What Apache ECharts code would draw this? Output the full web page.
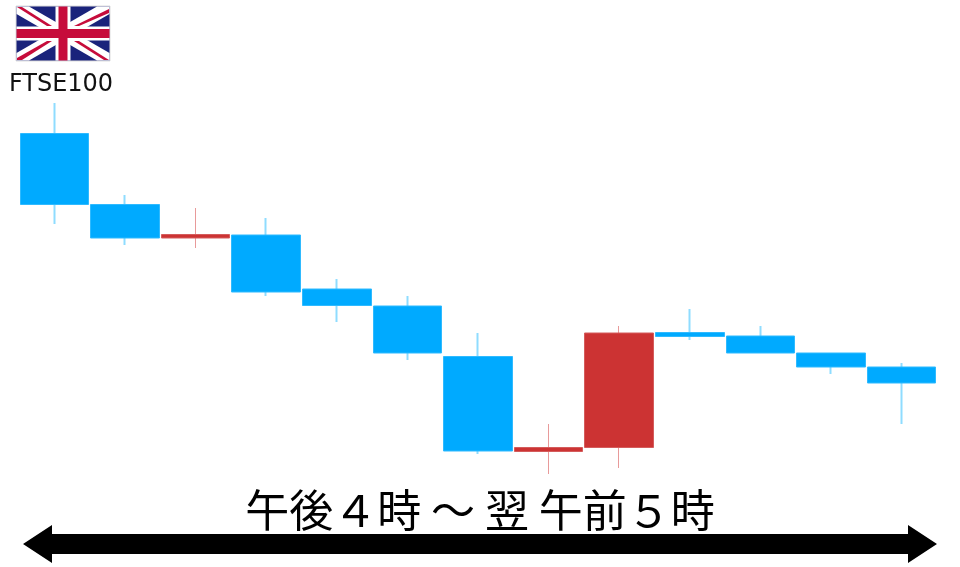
<!DOCTYPE html>
<html><head><meta charset="utf-8">
<script src="https://cdn.jsdelivr.net/npm/echarts@6/dist/echarts.min.js"></script>
<style>html,body{margin:0;padding:0;background:#fff}#c{width:960px;height:567px}</style>
</head><body><div id="c"></div>
<script>
const hours = ['16','17','18','19','20','21','22','23','00','01','02','03','04'];
const opens  = [346.5,275.5,242,245,191,174,123.5,28.5,32.5,147.5,144,127,113];
const closes = [275.5,242,245.5,188,174.5,127,29,32.5,147,143.5,127,113,97];
const lows   = [256,235,232,184,158,120,26,6,12,140,127,106,56];
const highs  = [377,285,272,262,201,184,147,56,154,171,154,127,117];
const indexLabel = 'FTSE100';
const spanLabel = '午後４時 ～ 翌 午前５時';

const W = 94, H = 55;
const red = '#c60c3b';
const flag = {type:'group', x:16, y:6, children:[
  {type:'rect', shape:{x:0,y:0,width:W,height:H}, style:{fill:'#1a237b', stroke:'#ddd', lineWidth:1}},
  {type:'polygon', shape:{points:[[0.5,0.5],[13,0.5],[W-0.5,H-8],[W-0.5,H-0.5],[W-13,H-0.5],[0.5,8]]}, style:{fill:'#fff'}},
  {type:'polygon', shape:{points:[[W-13,0.5],[W-0.5,0.5],[W-0.5,8],[13,H-0.5],[0.5,H-0.5],[0.5,H-8]]}, style:{fill:'#fff'}},
  {type:'polygon', shape:{points:[[1,1],[6,1],[36,20],[31,20]]}, style:{fill:red}},
  {type:'polygon', shape:{points:[[W-1,H-1],[W-6,H-1],[58,35],[63,35]]}, style:{fill:red}},
  {type:'polygon', shape:{points:[[W-1,3],[W-1,7],[63,20],[58,20]]}, style:{fill:red}},
  {type:'polygon', shape:{points:[[1,H-3],[1,H-1],[6,H-1],[36,35],[31,35]]}, style:{fill:red}},
  {type:'rect', shape:{x:W/2-7.5,y:0.5,width:15,height:H-1}, style:{fill:'#fff'}},
  {type:'rect', shape:{x:0.5,y:H/2-7,width:W-1,height:14}, style:{fill:'#fff'}},
  {type:'rect', shape:{x:W/2-4.5,y:0.5,width:9,height:H-1}, style:{fill:red}},
  {type:'rect', shape:{x:0.5,y:H/2-4.5,width:W-1,height:9}, style:{fill:red}}
]};

const chart = echarts.init(document.getElementById('c'), null, {renderer:'canvas'});
chart.setOption({
  animation:false,
  backgroundColor:'#fff',
  grid:{left:19, top:100, width:918, height:380},
  xAxis:{type:'category', data:hours, show:false},
  yAxis:{type:'value', min:0, max:380, show:false, scale:false, splitLine:{show:false}},
  series:[{
    name:'wicks',
    type:'candlestick',
    barWidth:1,
    data:hours.map((h,i)=>({
      value:[opens[i],closes[i],lows[i],highs[i]],
      itemStyle:closes[i]>opens[i]?{borderWidth:1}:{borderWidth:2}
    })),
    itemStyle:{color:'#e89a9a',borderColor:'#e89a9a',color0:'#8fdcff',borderColor0:'#8fdcff'}
  },{
    name:'bodies',
    type:'candlestick',
    barWidth:69,
    data:hours.map((h,i)=>[opens[i],closes[i],Math.min(opens[i],closes[i]),Math.max(opens[i],closes[i])]),
    itemStyle:{color:'#cc3333',borderColor:'#d45c5c',color0:'#00aaff',borderColor0:'#2fbaff',borderWidth:1}
  }],
  graphic:[
    flag,
    {type:'text', x:61, y:85, style:{text:indexLabel, fill:'#111', font:'24px "DejaVu Sans"', align:'center', verticalAlign:'middle'}},
    {type:'text', x:480, y:510, style:{text:spanLabel, fill:'#000', font:'44px "Noto Sans CJK JP"', align:'center', verticalAlign:'middle'}},
    {type:'polygon', shape:{points:[[23,544],[52,525],[52,534],[908,534],[908,525],[937,544],[908,563],[908,554],[52,554],[52,563]]}, style:{fill:'#000'}}
  ]
});
</script></body></html>
